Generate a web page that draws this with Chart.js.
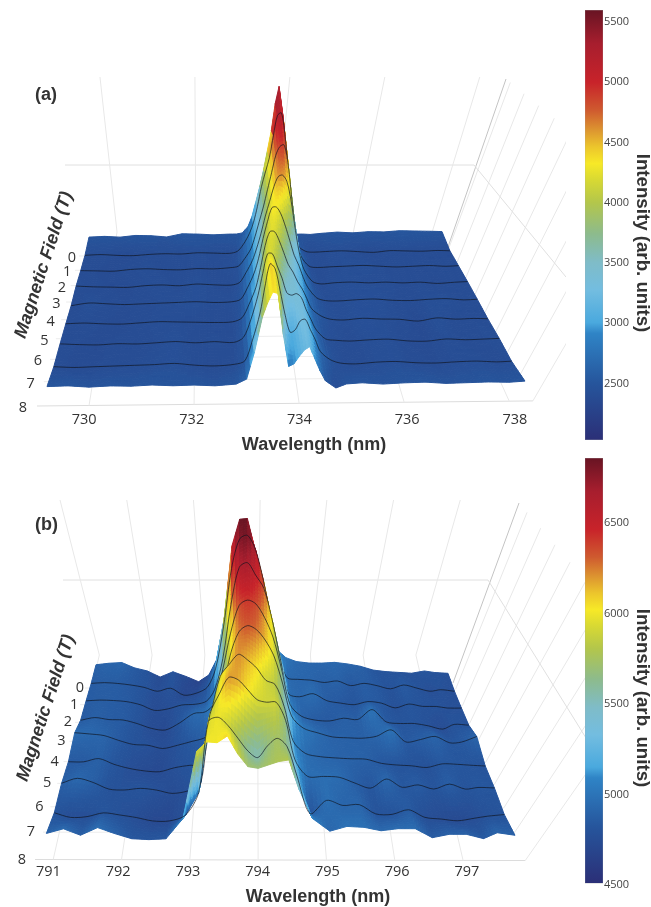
<!DOCTYPE html>
<html>
<head>
<meta charset="utf-8">
<script src="https://cdn.jsdelivr.net/npm/chart.js@4"></script>
<style>
  html, body { margin: 0; background: #fff; }
  #page { position: relative; width: 651px; height: 907px; overflow: hidden; }
  #page canvas { position: absolute; }
  #surfaceA, #surfaceB { filter: blur(.4px); }
</style>
</head>
<body>
<div id="page">
  <canvas id="surfaceA" width="566" height="380" style="left:0;top:77px"></canvas>
  <canvas id="surfaceB" width="586" height="409" style="left:0;top:498px"></canvas>
  <canvas id="barA" width="66" height="450" style="left:585px;top:0"></canvas>
  <canvas id="barB" width="66" height="457" style="left:585px;top:450px"></canvas>
</div>
<script>
// panel (a), intensity per field row (0 T .. 8 T)
const wavelengthsA = [729.2,729.6,730,730.4,730.8,731.2,731.6,732,732.4,732.8,733,733.15,733.3,733.4,733.5,733.6,733.7,733.8,733.9,734,734.1,734.2,734.3,734.4,734.5,734.7,734.9,735.2,735.6,736,736.4,736.8,737.2,737.6,738,738.3];
const a0 = [2480,2490,2470,2500,2490,2460,2520,2510,2490,2500, 2500,2520,2650,2850,3150,3450,3800,4200,4600,5150,5500,4900,4000,2750,2480, 2480,2470,2490,2510,2490,2510,2500,2520,2510,2500,2490];
const a1 = [2400,2410,2390,2380,2400,2410,2400,2420,2410,2400, 2440,2580,2800,3020,3350,3750,4050,4350,4800,5200,5250,4700,3800,2950,2550, 2420,2400,2410,2420,2400,2380,2410,2400,2390,2400,2390];
const a2 = [2400,2390,2380,2410,2420,2400,2390,2410,2400,2420, 2450,2600,2800,3050,3350,3650,4000,4350,4700,4880,4910,4500,3700,3000,2650, 2430,2400,2410,2420,2430,2410,2390,2400,2410,2390,2400];
const a3 = [2420,2400,2390,2380,2410,2420,2400,2430,2410,2400, 2450,2650,2900,3150,3450,3800,4100,4400,4600,4630,4500,4100,3500,3000,2700, 2450,2400,2420,2430,2410,2420,2400,2410,2380,2400,2410];
const a4 = [2380,2430,2410,2390,2400,2410,2420,2430,2410,2420, 2470,2700,3000,3300,3700,4050,4330,4340,4200,3950,3650,3350,3150,2900,2700, 2480,2420,2410,2430,2440,2410,2400,2420,2430,2400,2410];
const a5 = [2400,2410,2390,2380,2400,2420,2410,2400,2390,2400, 2480,2750,3100,3500,3950,4230,4230,4050,3800,3550,3400,3200,3050,2850,2650, 2500,2430,2410,2440,2420,2410,2370,2430,2400,2410,2400];
const a6 = [2410,2390,2380,2400,2390,2410,2430,2400,2420,2400, 2500,2850,3350,3800,4200,4200,3950,3700,3400,3350,3380,3300,3050,2850,2650, 2450,2420,2400,2420,2430,2390,2380,2420,2400,2410,2420];
const a7 = [2400,2380,2390,2400,2410,2420,2440,2400,2380,2410, 2480,2900,3450,4000,4450,4350,3900,3400,3050,3100,3280,3310,3100,2890,2650, 2480,2410,2390,2420,2430,2400,2390,2410,2420,2400,2410];
const a8 = [2490,2500,2470,2490,2480,2500,2480,2490,2470,2500, 2600,3150,3860,4150,4370,4340,3500,2850,2900,3050,3180,3250,3000,2750,2550, 2400,2480,2500,2470,2490,2500,2470,2480,2490,2480,2500];
const rowsA = [a0,a1,a2,a3,a4,a5,a6,a7,a8];

// panel (b)
const wavelengthsB = [790.9,791.15,791.4,791.65,791.9,792.15,792.4,792.65,792.9,793.1,793.25,793.4,793.55,793.7,793.85,794,794.15,794.3,794.45,794.6,794.8,795.05,795.3,795.55,795.8,796.05,796.3,796.55,796.8,797.05,797.3,797.5,797.76];
const b0 = [4930,4950,4960,4890,4850,4770,4840,4780,4710,4800,5000,5550,6500,6850,6860,6450,5950,5450,5120,5030,4980,4960,4960,4970,4950,4920,4870,4850,4840,4830,4860,4840,4830];
const b1 = [4900,4910,4900,4880,4850,4800,4840,4750,4780,4860,5100,5650,6400,6780,6830,6650,6250,5750,5250,4980,4960,4950,4920,4940,4880,4910,4880,4840,4890,4850,4810,4830,4810];
const b2 = [4900,4910,4905,4890,4850,4780,4800,4850,4860,4900,5050,5450,6150,6620,6680,6520,6350,5950,5450,5000,4960,5000,4910,4880,4860,4900,4880,4820,4870,4840,4840,4820,4820];
const b3 = [4890,4925,4900,4895,4850,4790,4770,4860,4980,5000,5100,5500,6000,6350,6420,6370,6200,5950,5550,5100,4950,4900,4890,4925,4910,5035,4880,4860,4860,4830,4790,4850,4840];
const b4 = [4985,4970,4950,4890,4840,4830,4790,4830,4880,4920,5000,5400,5950,6250,6330,6280,6150,5950,5600,5200,5050,4990,4940,4930,4925,4950,5030,4880,4910,4950,4870,4880,4950];
const b5 = [4890,4890,4930,4860,4810,4780,4770,4820,4850,4860,5500,5950,6100,6220,6150,6050,5900,5850,5580,5150,5000,4960,4945,4935,4930,4880,4860,4850,4830,4875,4870,4860,4850];
const b6 = [4910,4970,4920,4840,4830,4850,4830,4790,4820,4900,5750,6000,6200,6170,6050,5930,5900,5900,5680,5200,5000,5000,4990,4920,4860,4970,4870,4900,4850,4910,4850,4870,4865];
const b7 = [4855,4800,4810,4855,4830,4800,4760,4760,4830,5100,5950,6000,5900,5750,5600,5520,5660,5750,5650,5300,4850,5010,4950,4960,4850,4845,4900,4810,4790,4770,4800,4825,4845];
const b8 = [4930,4985,4910,5000,4930,4870,4860,4870,5110,5900,6010,6000,6080,5870,5720,5700,5740,5780,5800,5450,5110,4964,5020,5010,4970,4995,4995,4890,4930,4930,4880,4950,4920];
const rowsB = [b0,b1,b2,b3,b4,b5,b6,b7,b8];

const fieldTicks = [0,1,2,3,4,5,6,7,8];
const wavelengthTicksA = [730,732,734,736,738];
const wavelengthTicksB = [791,792,793,794,795,796,797];
const colorTicksA = [2500,3000,3500,4000,4500,5000,5500];
const colorTicksB = [4500,5000,5500,6000,6500];

// colour bar, fraction from bottom -> colour
const colorFractions = [0,.132,.248,.273,.349,.413,.48,.552,.605,.643,.682,.72,.767,.832,.922,1];
const colorValues = ['#2b2f77','#26559c','#2f84c6','#4aa9de','#73bde0','#7fbcc8','#8dbb8c','#b3c64b','#d8d933','#f7e927','#ecc52c','#dd9630','#cf5a2f','#c8232a','#a71e2e','#681423'];

// camera settings for the hand fitted projection of each panel
const viewA = {
  wlMin: 729.2, wlMax: 738.3, backL: 89, backR: 442, frontL: 47, frontR: 525, backY: 241, frontY: 391, tilt: -5,
  base: 2400, zs: .049, gain: 0, floorZ: -15, min: 2030, max: 5600, tint: 0,
  wallBack: { y: 232, xL: 85.5, xR: 444 }, wallTop: { y: 77, xL: 62, xR: 494 },
  corner: [506, 79], cornerBase: [448, 247], topSlope: .813, fan: [.345, .58], wallLevel: 165, wallLevelLeft: 65, wallLevelEnd: [566, 277], levelX: 474,
  labelSpread: 12, tickY: 420, titleY: 445, titleX: 314, magnetic: [44, 265], tag: ['(a)', 35, 95], sideBase: 17, sideFront: 24, sideDy: 2
};
const viewB = {
  wlMin: 790.88, wlMax: 797.76, backL: 95, backR: 448, frontL: 45, frontR: 515, backY: 667, frontY: 836, tilt: 1,
  base: 4900, zs: .076, gain: .12, floorZ: -21, min: 4510, max: 6860, tint: 40,
  wallBack: { y: 655, xL: 93, xR: 456 }, wallTop: { y: 500, xL: 52, xR: 511 },
  corner: [519, 503], cornerBase: [453, 683], topSlope: 1.16, fan: [.367, .7], wallLevel: 580, wallLevelLeft: 63, wallLevelEnd: [586, 738], levelX: 488,
  labelSpread: 10, tickY: 872, titleY: 897, titleX: 318, magnetic: [46, 708], tag: ['(b)', 35, 525], sideBase: 15, sideFront: 23, sideDy: 0
};

const lerp = (a, b, t) => a + (b - a) * t;

function project(view, wl, f, z) {
  const d = (view.frontR - view.frontL) / (view.backR - view.backL);
  const s0 = 1 / d, s = 1 / (d - (d - 1) * f / 8);
  const p = (s - s0) / (1 - s0);
  const u = (wl - view.wlMin) / (view.wlMax - view.wlMin);
  const xl = lerp(view.backL, view.frontL, p), xr = lerp(view.backR, view.frontR, p);
  const y = lerp(view.backY, view.frontY, p) + view.tilt * u;
  return { x: xl + (xr - xl) * u, y: y - z * (1 + view.gain * p) };
}

function surfacePoint(view, wl, f, value) {
  const pt = project(view, wl, f, (value - view.base) * view.zs);
  // the flat part of the surface reads a little darker than its height suggests
  const tint = value < view.base + 400 ? view.tint : 0;
  pt.v = (value - tint - view.min) / (view.max - view.min);
  return pt;
}

function hexRgb(h) { return [1, 3, 5].map(i => parseInt(h.slice(i, i + 2), 16)); }

const colorLut = [];
for (let i = 0; i <= 400; i++) {
  const t = i / 400;
  let k = 0;
  while (k < colorFractions.length - 2 && t > colorFractions[k + 1]) k++;
  const m = (t - colorFractions[k]) / (colorFractions[k + 1] - colorFractions[k]);
  const c0 = hexRgb(colorValues[k]), c1 = hexRgb(colorValues[k + 1]);
  colorLut.push(`rgb(${c0.map((c, j) => Math.round(lerp(c, c1[j], m))).join(',')})`);
}
const colorAt = t => colorLut[Math.max(0, Math.min(400, Math.round(t * 400)))];

// fills the strips between two field rows, dataset by dataset so the black lines stay in depth order
const meshPlugin = {
  id: 'mesh',
  beforeDatasetDraw(chart, args) {
    const ds = chart.data.datasets[args.index];
    if (!ds.mesh) return;
    const sx = chart.scales.x, sy = chart.scales.y, g = chart.ctx;
    const px = ds.data.map(d => ({ x: sx.getPixelForValue(d.x), y: sy.getPixelForValue(d.y), v: d.v }));
    const cols = px.length / 2, nv = 8;
    g.save();
    g.lineWidth = 1;
    g.lineJoin = 'round';
    for (let iv = 0; iv < nv; iv++) {
      const v0 = iv / nv, v1 = (iv + 1) / nv;
      for (let j = 0; j < cols - 1; j++) {
        const a = px[2 * j], c = px[2 * j + 1], b = px[2 * j + 2], e = px[2 * j + 3];
        const nu = Math.max(1, Math.ceil(Math.abs(b.x - a.x) / 4));
        for (let iu = 0; iu < nu; iu++) {
          const u0 = iu / nu, u1 = (iu + 1) / nu;
          const at = (u, v, k) => lerp(lerp(a[k], b[k], u), lerp(c[k], e[k], u), v);
          const col = colorAt(at((u0 + u1) / 2, (v0 + v1) / 2, 'v'));
          g.fillStyle = col; g.strokeStyle = col;
          g.beginPath();
          g.moveTo(at(u0, v0, 'x'), at(u0, v0, 'y'));
          g.lineTo(at(u1, v0, 'x'), at(u1, v0, 'y'));
          g.lineTo(at(u1, v1, 'x'), at(u1, v1, 'y'));
          g.lineTo(at(u0, v1, 'x'), at(u0, v1, 'y'));
          g.closePath();
          g.fill(); g.stroke();
        }
      }
    }
    g.restore();
  }
};

function gridLine(points, color) {
  return { data: points, borderColor: color || '#e8e8e8', borderWidth: 1, pointRadius: 0, tension: 0, order: 500 };
}

function surfaceDatasets(view, wavelengths, rows, wlTicks) {
  const sets = [];
  const u = wl => (wl - view.wlMin) / (view.wlMax - view.wlMin);
  // floor and back wall lines for the wavelength ticks
  wlTicks.forEach(wl => {
    const back = { x: lerp(view.wallBack.xL, view.wallBack.xR, u(wl)), y: view.wallBack.y };
    const top = { x: lerp(view.wallTop.xL, view.wallTop.xR, u(wl)), y: view.wallTop.y };
    sets.push(gridLine([project(view, wl, 8, view.floorZ), back, top]));
  });
  // floor lines for the field ticks
  fieldTicks.forEach(f => {
    const l = project(view, view.wlMin, f, view.floorZ), r = project(view, view.wlMax + .15, f, view.floorZ);
    sets.push(gridLine([{ x: l.x - 10, y: l.y }, r], f === 8 ? '#dcdcdc' : '#ececec'));
  });
  // back wall level and its run along the right wall
  sets.push(gridLine([{ x: view.wallLevelLeft, y: view.wallLevel }, { x: view.levelX, y: view.wallLevel },
    { x: view.wallLevelEnd[0], y: view.wallLevelEnd[1] }], '#e0e0e0'));
  // right wall lines, fanning out towards the viewer
  sets.push(gridLine([{ x: view.cornerBase[0], y: view.cornerBase[1] }, { x: view.corner[0], y: view.corner[1] }], '#c4c4c4'));
  fieldTicks.forEach(f => {
    const b = project(view, view.wlMax + .15, f, view.floorZ);
    const k = lerp(view.fan[0], view.fan[1], (f + 1) / 9);
    // meet the top edge y = cy + topSlope*(x-cx)
    const dy = (view.corner[1] + view.topSlope * (b.x - view.corner[0]) - b.y) / (1 + view.topSlope * k);
    sets.push(gridLine([b, { x: b.x - k * dy, y: b.y + dy }]));
  });
  // surface strips and contour lines, back to front
  for (let i = 0; i < rows.length - 1; i++) {
    const strip = [];
    wavelengths.forEach((wl, j) => {
      strip.push(surfacePoint(view, wl, i, rows[i][j]));
      strip.push(surfacePoint(view, wl, i + 1, rows[i + 1][j]));
    });
    sets.push({ mesh: true, data: strip, showLine: false, pointRadius: 0, order: 400 - 2 * i });
    if (i + 1 < rows.length - 1) {
      // goes on after the next strip, which starts on this same row and would cover half the line
      sets.push({
        data: wavelengths.map((wl, j) => surfacePoint(view, wl, i + 1, rows[i + 1][j])),
        borderColor: 'rgba(15,20,30,.85)', borderWidth: .8, pointRadius: 0, tension: .3, order: 397 - 2 * i
      });
    }
  }
  return sets;
}

function labelPlugin(view, wlTicks) {
  return {
    id: 'panelText',
    afterDraw(chart) {
      const g = chart.ctx, sx = chart.scales.x, sy = chart.scales.y;
      const text = (s, x, y, font, rot) => {
        g.save();
        g.translate(sx.getPixelForValue(x), sy.getPixelForValue(y));
        if (rot) g.rotate(rot);
        g.font = font; g.fillStyle = '#333'; g.textAlign = 'center'; g.textBaseline = 'middle';
        g.fillText(s, 0, 0);
        g.restore();
      };
      const tickFont = '14.5px "Open Sans"';
      wlTicks.forEach(wl => {
        const p = project(view, wl, 8, view.floorZ);
        const u = (wl - view.wlMin) / (view.wlMax - view.wlMin);
        text(String(wl), p.x + (u - .5) * view.labelSpread, view.tickY, tickFont);
      });
      fieldTicks.forEach(f => {
        const p = project(view, view.wlMin, f, view.floorZ);
        text(String(f), p.x - lerp(view.sideBase, view.sideFront, f / 8), p.y + view.sideDy, tickFont);
      });
      text('Wavelength (nm)', view.titleX, view.titleY, 'bold 18px "Liberation Sans"');
      text('Magnetic Field (T)', view.magnetic[0], view.magnetic[1], 'italic bold 18px "Liberation Sans"', -72 * Math.PI / 180);
      g.font = 'bold 18px "Liberation Sans"'; g.fillStyle = '#333'; g.textAlign = 'left'; g.textBaseline = 'middle';
      g.fillText(view.tag[0], view.tag[1], sy.getPixelForValue(view.tag[2]));
    }
  };
}

function makeSurface(id, view, wavelengths, rows, wlTicks, xMax, yMin, yMax) {
  new Chart(document.getElementById(id), {
    type: 'line',
    data: { datasets: surfaceDatasets(view, wavelengths, rows, wlTicks) },
    options: {
      responsive: false,
      animation: false,
      events: [],
      layout: { padding: 0 },
      plugins: { legend: { display: false }, tooltip: { enabled: false } },
      scales: {
        x: { type: 'linear', display: false, min: 0, max: xMax },
        y: { type: 'linear', display: false, reverse: true, min: yMin, max: yMax }
      }
    },
    plugins: [meshPlugin, labelPlugin(view, wlTicks)]
  });
}

function makeBar(id, low, high, axisMin, axisMax, tickValues, padTop, padBottom, titleY) {
  new Chart(document.getElementById(id), {
    type: 'bar',
    data: {
      labels: ['Intensity'],
      datasets: [{
        data: [[low, high]],
        categoryPercentage: 1,
        barPercentage: 1,
        borderColor: '#9a9a9a',
        borderWidth: .5,
        borderSkipped: false,
        backgroundColor(ctx) {
          const chart = ctx.chart;
          if (!chart.chartArea) return '#888';
          const y = chart.scales.y;
          const grad = chart.ctx.createLinearGradient(0, y.getPixelForValue(low), 0, y.getPixelForValue(high));
          colorFractions.forEach((t, i) => grad.addColorStop(t, colorValues[i]));
          return grad;
        }
      }]
    },
    options: {
      responsive: false,
      animation: false,
      events: [],
      layout: { padding: { top: padTop, bottom: padBottom, left: 0, right: 0 } },
      plugins: { legend: { display: false }, tooltip: { enabled: false } },
      scales: {
        x: { display: false },
        y: {
          position: 'right',
          min: axisMin,
          max: axisMax,
          afterFit(scale) { scale.width = 48; },
          afterBuildTicks(scale) { scale.ticks = tickValues.map(value => ({ value })); },
          grid: { display: false, drawTicks: false },
          border: { display: false },
          ticks: {
            padding: 1, color: '#444', font: { family: 'Open Sans', size: 11 },
            callback: value => String(value)
          }
        }
      }
    },
    plugins: [{
      id: 'barTitle',
      afterDraw(chart) {
        const g = chart.ctx;
        g.save();
        g.translate(57, titleY);
        g.rotate(Math.PI / 2);
        g.font = 'bold 18.7px "Liberation Sans"'; g.fillStyle = '#333';
        g.textAlign = 'center'; g.textBaseline = 'middle';
        g.fillText('Intensity (arb. units)', 0, 0);
        g.restore();
      }
    }]
  });
}

makeSurface('surfaceA', viewA, wavelengthsA, rowsA, wavelengthTicksA, 566, 77, 457);
makeSurface('surfaceB', viewB, wavelengthsB, rowsB, wavelengthTicksB, 586, 498, 907);
makeBar('barA', 2030, 5600, 2030, 5600, colorTicksA, 10, 10, 243);
makeBar('barB', 4510, 6860, 4500, 6860, colorTicksB, 8, 22, 248);
</script>
</body>
</html>
